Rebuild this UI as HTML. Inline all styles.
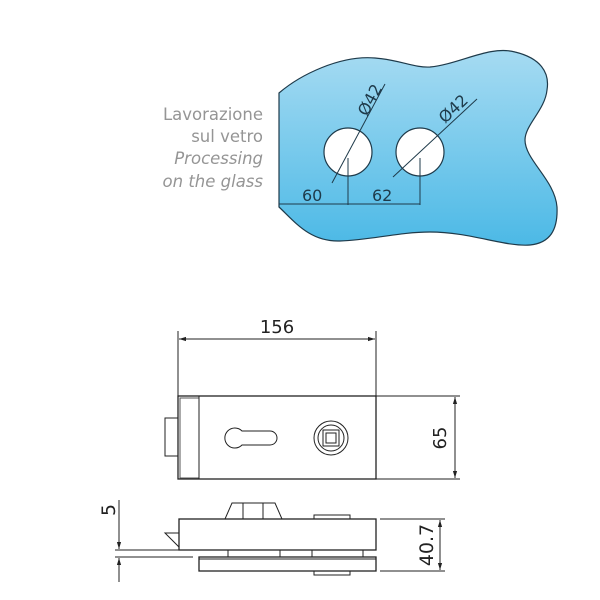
<!DOCTYPE html>
<html><head><meta charset="utf-8"><style>html,body{margin:0;padding:0;background:#fff}svg{display:block}</style></head>
<body>
<svg width="600" height="600" viewBox="0 0 600 600" xmlns="http://www.w3.org/2000/svg">
<defs>
<linearGradient id="g" x1="0" y1="0" x2="0" y2="1">
<stop offset="0" stop-color="#a6dbf2"/><stop offset="1" stop-color="#4cb9e6"/>
</linearGradient>
<marker id="a" viewBox="0 0 10 10" refX="10" refY="5" markerWidth="7" markerHeight="7" orient="auto-start-reverse"><path d="M0,2 L10,5 L0,8 z" fill="#222"/></marker>
</defs>
<g font-family="DejaVu Sans, Liberation Sans, sans-serif" font-size="16.5" fill="#959595" text-anchor="end">
<text x="263" y="120">Lavorazione</text>
<text x="263" y="142">sul vetro</text>
<text x="263" y="164" font-style="italic">Processing</text>
<text x="263" y="187" font-style="italic">on the glass</text>
</g>
<path d="M279,93 C300,75 340,55 375,58 C400,60 415,68 430,67 C460,64 490,45 515,52 C540,58 550,72 547,90 C545,110 525,125 525,140 C525,160 555,180 557,207 C558,230 550,243 530,245 C505,247 470,232 430,232 C400,232 370,240 340,241 C310,242 295,222 279,207 Z" fill="url(#g)" stroke="#1e3a4a" stroke-width="1.2"/>
<circle cx="348" cy="152" r="24" fill="#fff" stroke="#1e3a4a" stroke-width="1.2"/>
<circle cx="420" cy="152" r="24" fill="#fff" stroke="#1e3a4a" stroke-width="1.2"/>
<g stroke="#1e3a4a" stroke-width="1" fill="none">
<line x1="332" y1="183" x2="385" y2="84"/>
<line x1="393" y1="177" x2="477" y2="99"/>
<line x1="348" y1="158" x2="348" y2="205"/>
<line x1="420" y1="158" x2="420" y2="205"/>
<line x1="279" y1="204" x2="420" y2="204"/>
</g>
<g font-family="DejaVu Sans, Liberation Sans, sans-serif" font-size="16" fill="#1e3a4a">
<text x="302" y="201">60</text>
<text x="372" y="201">62</text>
<text transform="translate(367,117) rotate(-62)">Ø42</text>
<text transform="translate(445,124) rotate(-43)">Ø42</text>
</g>
<g stroke="#222" stroke-width="1" fill="none">
<line x1="178" y1="331" x2="178" y2="396"/>
<line x1="376" y1="331" x2="376" y2="396"/>
<line x1="179" y1="339" x2="375" y2="339" marker-start="url(#a)" marker-end="url(#a)"/>
<rect x="178" y="396" width="198" height="83" stroke-width="1.3"/>
<rect x="180" y="398" width="19" height="80" stroke="#555"/>
<line x1="199" y1="396" x2="199" y2="479"/>
<rect x="165" y="418" width="13" height="38"/>
<path d="M242,431 A10,10 0 1,0 242,445 L270,445 A7,7 0 0,0 270,431 Z"/>
<circle cx="331" cy="438" r="17"/>
<circle cx="331" cy="438" r="13"/>
<rect x="323" y="430" width="16" height="16"/>
<rect x="326" y="433" width="10" height="10"/>
<line x1="376" y1="396" x2="460" y2="396"/>
<line x1="376" y1="479" x2="460" y2="479"/>
<line x1="455" y1="397" x2="455" y2="478" marker-start="url(#a)" marker-end="url(#a)"/>
<rect x="179" y="519" width="197" height="31" stroke-width="1.3"/>
<path d="M225,519 L232,503 L275,503 L282,519"/>
<line x1="243" y1="503" x2="243" y2="519"/><line x1="263" y1="503" x2="263" y2="519"/>
<rect x="314" y="515" width="36" height="4"/>
<line x1="228" y1="550" x2="228" y2="557"/><line x1="280" y1="550" x2="280" y2="557"/><line x1="312" y1="550" x2="312" y2="557"/><line x1="363" y1="550" x2="363" y2="557"/>
<rect x="199" y="557" width="177" height="14" stroke-width="1.3"/>
<line x1="199" y1="559" x2="376" y2="559"/>
<rect x="314" y="571" width="36" height="4"/>
<path d="M165,533 L179,533 L179,547 Z"/>
<line x1="115" y1="550" x2="180" y2="550"/>
<line x1="115" y1="557" x2="193" y2="557"/>
<line x1="119" y1="500" x2="119" y2="549" marker-end="url(#a)"/>
<line x1="119" y1="582" x2="119" y2="558" marker-end="url(#a)"/>
<line x1="380" y1="519" x2="445" y2="519"/>
<line x1="380" y1="571" x2="445" y2="571"/>
<line x1="440" y1="520" x2="440" y2="570" marker-start="url(#a)" marker-end="url(#a)"/>
</g>
<g font-family="DejaVu Sans, Liberation Sans, sans-serif" font-size="18" fill="#222" text-anchor="middle">
<text x="277" y="333">156</text>
<text transform="translate(446,438) rotate(-90)">65</text>
<text transform="translate(115,510) rotate(-90)" font-size="19">5</text>
<text transform="translate(433,545) rotate(-90)" font-size="19">40.7</text>
</g>
</svg>
</body></html>
